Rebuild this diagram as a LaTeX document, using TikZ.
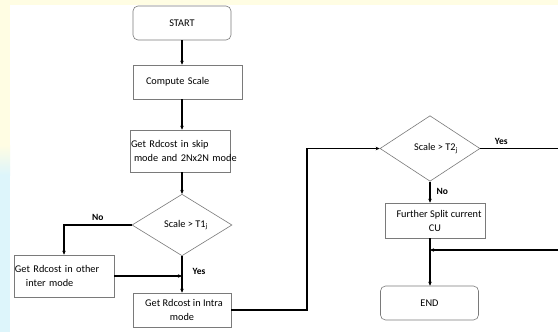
\documentclass[tikz,border=0pt]{standalone}
\usepackage{fontspec}
\setmainfont{Carlito}
\usetikzlibrary{shapes.geometric,arrows.meta,calc}
\definecolor{boxline}{HTML}{7A7A7A}
\definecolor{bgyellow}{HTML}{FFFDE3}
\definecolor{bgblue}{HTML}{DDF5FB}
\tikzset{
  flowbox/.style={draw=boxline, line width=0.6pt, minimum width=#1, minimum height=34pt, inner sep=1pt, font=\fontsize{10.3}{14}\selectfont},
  flowbox/.default=100pt,
  termbox/.style={flowbox=98pt, rounded corners=5pt},
  decide/.style={diamond, draw=boxline, line width=0.6pt, minimum width=100pt, minimum height=53pt, inner sep=0pt, font=\fontsize{10.3}{10}\selectfont},
  flowarrow/.style={line width=1.3pt, -{Stealth[length=4pt,width=3.5pt]}},
  flowline/.style={line width=1.3pt},
  lbl/.style={font=\bfseries\fontsize{9.5}{10}\selectfont, inner sep=0pt}
}
\begin{document}
\begin{tikzpicture}[x=1pt,y=-1pt]
\useasboundingbox (0,0) rectangle (558,332);
\fill[white] (0,0) rectangle (558,332);
% screenshot background strips
\fill[bgyellow] (0,0) rectangle (558,5);
\fill[bgyellow] (0,0) rectangle (10,145);
\fill[bgblue] (0,175) rectangle (10,332);
\shade[top color=bgyellow, bottom color=bgblue] (0,145) rectangle (10,175);

\node[termbox] (start) at (182,23) {START};
\node[flowbox=109pt, text width=105pt, align=left] (scale) at (187.5,82) {\hspace*{11pt}Compute Scale};
\node[flowbox=100pt, minimum height=42pt, text width=100pt, inner xsep=0pt, align=left] (skip) at (180,151) {\mbox{\hspace*{1pt}Get Rdcost in skip}\\\mbox{\hspace*{4pt}mode and 2Nx2N mode}};
\node[decide] (t1) at (182,225) {\hspace*{8pt}Scale > T1\textsubscript{j}};
\node[flowbox=100pt, minimum height=42pt, text width=98pt, align=left] (inter) at (64,276) {Get Rdcost in other\\\hspace*{11pt}inter mode};
\node[flowbox=98pt, align=center] (intra) at (182,310) {\hspace*{4pt}Get Rdcost in Intra\\mode};
\node[decide] (t2) at (430,148.5) {\hspace*{12pt}Scale > T2\textsubscript{j}};
\node[flowbox=100pt, minimum height=35pt, align=center] (split) at (435,220.5) {\hspace*{8pt}Further Split current\\CU};
\node[termbox=99pt] (end) at (429.5,303) {END};

\coordinate (yesout) at (558,152);
\coordinate (yesin) at (558,250);

\draw[flowarrow] (start.south) -- (start.south |- scale.north);
\draw[flowarrow] (scale.south -| start) -- (skip.north -| start);
\draw[flowarrow] (skip.south -| start) -- (t1.north);
\draw[flowarrow] (t1.west) -| node[lbl, pos=0.25, above=4pt] {No} (inter.north);
\draw[flowarrow] (t1.south) -- node[lbl, pos=0.42, right=10pt] {Yes} (intra.north);
\draw[flowarrow] (inter.east) -- (inter.east -| t1.south);
\draw[flowarrow] (intra.east) -- (307,310) -- (307,148.5) -- (t2.west);
\draw[flowline] (t2.east) -- node[lbl, pos=0.27, above=3pt] {Yes} (yesout |- t2.east);
\draw[flowarrow] (t2.south) -- node[lbl, pos=0.45, right=6pt] {No} (t2.south |- split.north);
\draw[flowarrow] (t2.south |- split.south) -- (t2.south |- end.north);
\draw[flowarrow] (yesin) -- (yesin -| t2.south);
\end{tikzpicture}
\end{document}
